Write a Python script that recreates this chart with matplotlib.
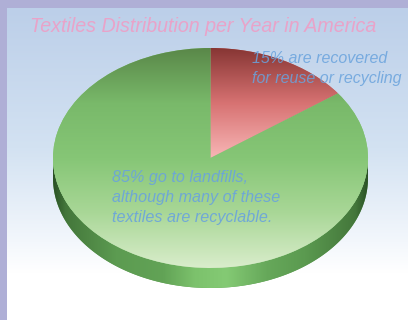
import numpy as np
import matplotlib
matplotlib.use("Agg")
import matplotlib.pyplot as plt
from matplotlib.colors import LinearSegmentedColormap
from matplotlib.patches import Polygon, Rectangle

# ---- data ----
labels = ["Recovered for reuse or recycling", "Landfills"]
values = [15, 85]
title = "Textiles Distribution per Year in America"
note_recovered = ["15% are recovered", "for reuse or recycling"]
note_landfill = ["85% go to landfills,", "although many of these", "textiles are recyclable."]

W, H = 408, 320
fig = plt.figure(figsize=(W / 100, H / 100), dpi=100)
fig.patch.set_facecolor("#afafd6")

# ---- background ----
bg = fig.add_axes([0, 0, 1, 1])
bg.set_xlim(0, W)
bg.set_ylim(H, 0)
bg.axis("off")
bg_cmap = LinearSegmentedColormap.from_list(
    "bg", [(0, "#bccfe9"), (0.45, "#d3e2f2"), (0.75, "#f3f7fc"), (0.85, "#ffffff"), (1, "#ffffff")])
grad = np.linspace(0, 1, 256).reshape(-1, 1)
bg.add_patch(Rectangle((0, 0), W, H, facecolor="#afafd6", edgecolor="none", zorder=0))
bg.imshow(grad, cmap=bg_cmap, extent=(7, W, H, 8), aspect="auto", zorder=1)
bg.set_xlim(0, W)
bg.set_ylim(H, 0)

# ---- pie ----
depth = 20 / 110
px_left, px_right, px_top, px_bottom = 53, 368, 48, 288
pie_ax = fig.add_axes([px_left / W, 1 - px_bottom / H,
                       (px_right - px_left) / W, (px_bottom - px_top) / H])
pie_ax.patch.set_alpha(0)

# side band
t = np.linspace(np.pi, 2 * np.pi, 200)
top_arc = np.column_stack([np.cos(t), np.sin(t)])
bot_arc = np.column_stack([np.cos(t[::-1]), np.sin(t[::-1]) - depth])
side = Polygon(np.vstack([top_arc, bot_arc]), closed=True, facecolor="#5e9e53",
               edgecolor="none", zorder=1)
pie_ax.add_patch(side)
side_cmap = LinearSegmentedColormap.from_list(
    "side", [(0, "#2b5226"), (0.04, "#44773b"), (0.2, "#5c9b51"), (0.35, "#62a356"),
             (0.45, "#7cc26c"), (0.55, "#84ca74"), (0.68, "#66a85a"),
             (0.8, "#5b9a50"), (0.96, "#44773b"), (1, "#2b5226")])
img = pie_ax.imshow(np.linspace(0, 1, 256).reshape(1, -1), cmap=side_cmap,
                    extent=(-1, 1, -1 - depth, 0), aspect="auto", zorder=2)
img.set_clip_path(side)

wedges, _ = pie_ax.pie(values, startangle=90, counterclock=False, radius=1,
                       colors=["#c86060", "#86c676"],
                       wedgeprops=dict(edgecolor="none"))
for w in wedges:
    w.set_zorder(3)

red_cmap = LinearSegmentedColormap.from_list(
    "red", [(0, "#f8b6b6"), (0.5, "#d77272"), (1, "#873634")])
green_cmap = LinearSegmentedColormap.from_list(
    "green", [(0, "#d9edcb"), (0.25, "#a9d797"), (0.5, "#86c676"),
              (0.75, "#79b96a"), (1, "#5a8849")])
vgrad = np.linspace(0, 1, 256).reshape(-1, 1)
im_r = pie_ax.imshow(vgrad, cmap=red_cmap, extent=(-1, 1, 0, 1), origin="lower",
                     aspect="auto", zorder=4)
im_r.set_clip_path(wedges[0])
im_g = pie_ax.imshow(vgrad, cmap=green_cmap, extent=(-1, 1, -1, 1), origin="lower",
                     aspect="auto", zorder=4)
im_g.set_clip_path(wedges[1])

pie_ax.set_xlim(-1, 1)
pie_ax.set_ylim(-1 - depth, 1)
pie_ax.set_aspect("auto")
pie_ax.axis("off")

# ---- text overlay ----
ov = fig.add_axes([0, 0, 1, 1])
ov.set_xlim(0, W)
ov.set_ylim(H, 0)
ov.axis("off")
ov.patch.set_alpha(0)

font = dict(family="Liberation Sans", style="italic")
ov.text(30, 32, title, color="#e9a3c9", fontsize=14.1, va="baseline", ha="left", **font)
for i, line in enumerate(note_recovered):
    ov.text(252, 63 + 20 * i, line, color="#6aa3dd", alpha=0.85, fontsize=11.5,
            va="baseline", ha="left", **font)
for i, line in enumerate(note_landfill):
    ov.text(112, 182 + 20 * i, line, color="#6aa3dd", alpha=0.9, fontsize=11.6,
            va="baseline", ha="left", **font)

fig.savefig("out.png", dpi=100)
